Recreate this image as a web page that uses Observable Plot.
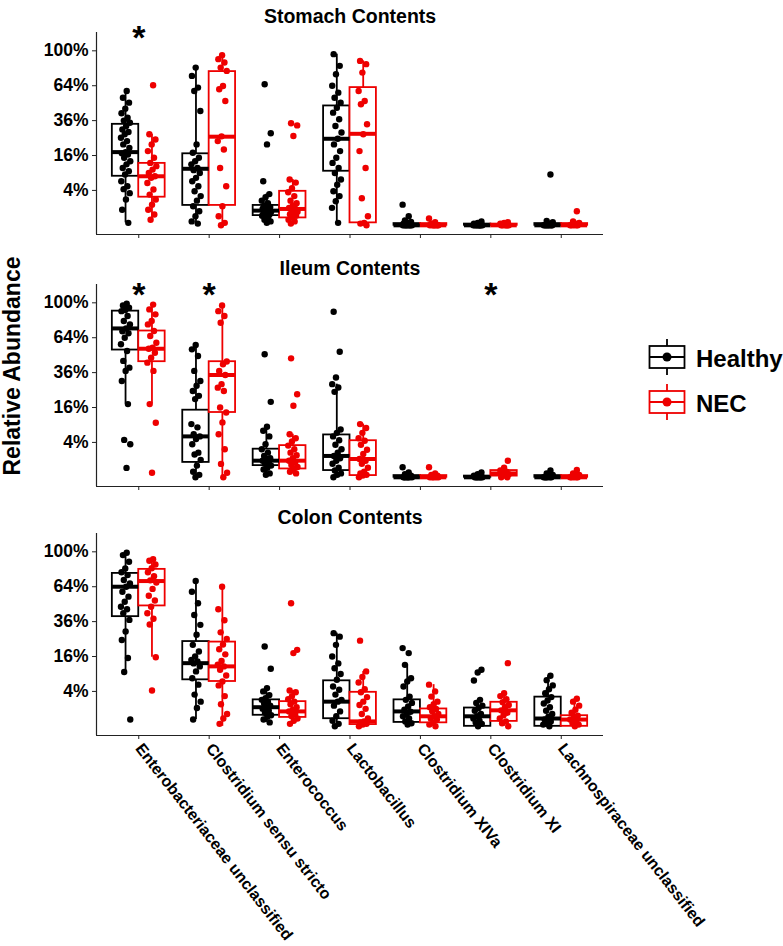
<!DOCTYPE html>
<html><head><meta charset="utf-8">
<script src="https://cdn.jsdelivr.net/npm/d3@7"></script>
<script src="https://cdn.jsdelivr.net/npm/@observablehq/plot@0.6"></script>
<style>
body{margin:0;background:#fff;}
#wrap{position:relative;width:783px;height:946px;font-family:"Liberation Sans",Arial,sans-serif;overflow:hidden;}
.panel{position:absolute;left:0;}
#ylab{position:absolute;left:12px;top:366px;transform:translate(-50%,-50%) rotate(-90deg);font-weight:bold;font-size:23px;line-height:1;white-space:nowrap;color:#000;}
#legend{position:absolute;left:640px;top:330px;}
</style></head><body><div id="wrap"><div id="ylab">Relative Abundance</div><div id="legend"></div></div>
<script>
const categories = ["Enterobacteriaceae unclassified","Clostridium sensu stricto","Enterococcus","Lactobacillus","Clostridium XIVa","Clostridium XI","Lachnospiraceae unclassified"];
const groups = ["Healthy","NEC"];
const groupColors = ["#000000","#ee0000"];
const panels = ["Stomach Contents","Ileum Contents","Colon Contents"];
const yTicks = [0.04,0.16,0.36,0.64,1];
const yTickLabels = ["4%","16%","36%","64%","100%"];

// box stats per category: [lower whisker, Q1, median, Q3, upper whisker] in %
const stomachHealthyBox = [[0.02,7.9,17.6,33.5,59.3],[0,1.3,10.5,16.8,81.7],[0,0.31,0.71,1.3,3.2],[0.02,9.6,24.6,46.8,96.2],[0,0,0,0.01,0.04],[0,0,0,0.005,0.02],[0,0,0,0.01,0.03]];
const stomachNecBox = [[0.1,2.6,7.9,12.6,27.2],[0,1.3,25.8,77.6,95.1],[0,0.18,0.88,3.8,6.9],[0,0.02,27.5,62.3,88.8],[0,0,0,0.01,0.03],[0,0,0,0.005,0.02],[0,0,0,0.01,0.03]];
const ileumHealthyBox = [[17.6,53.2,72.8,90.7,99.0],[0,0.73,5.5,14.8,57.5],[0.02,0.45,0.91,2.6,8.4],[0,0.15,1.5,5.9,28.5],[0,0,0,0.01,0.03],[0,0,0,0.005,0.02],[0,0,0,0.01,0.05]];
const ileumNecBox = [[17.6,43.9,54.3,70.3,98.0],[0,13.8,34.4,43.9,97.0],[0.05,0.23,0.91,3.3,6.1],[0,0.01,1.1,4.4,9.3],[0,0,0,0.01,0.03],[0,0.005,0.05,0.15,0.3],[0,0,0,0.01,0.05]];
const colonHealthyBox = [[9.7,39.5,64.0,76.8,99.0],[0.15,7.1,13.1,23.6,69.3],[0.05,0.4,1.2,2.3,4.8],[0,0.19,2.0,6.8,28.5],[0,0.05,0.73,2.3,12.4],[0,0,0.33,1.1,2.3],[0,0,0.2,2.8,8.4]];
const colonNecBox = [[15.7,47.6,69.3,80.9,91.8],[0,6.6,11.8,23.3,64.0],[0.02,0.26,0.73,2.0,4.2],[0,0.01,0.08,3.8,9.9],[0,0.04,0.33,0.99,5.7],[0,0.08,0.84,1.9,3.6],[0,0,0.15,0.37,2.5]];

// individual samples per category, in %
const stomachHealthyPts = [
 [59.3,53.5,49.4,44.7,41.2,38.0,36.0,34.6,32.4,30.2,28.6,27.2,25.2,23.3,21.5,19.7,17.6,17.0,16.5,15.0,13.5,12.2,10.8,9.6,8.5,6.4,5.0,4.3,3.4,2.2,0.8,0.02],
 [81.7,73.3,62.3,59.3,42.9,21.5,17.3,15.0,13.5,12.2,10.8,10.0,9.0,7.4,6.4,5.0,3.8,2.8,2.0,1.2,0.65,0.27,0.05,0.01],
 [65.4,27.8,21.5,6.4,3.2,2.6,2.0,1.6,1.3,1.1,1.0,0.9,0.8,0.7,0.6,0.6,0.5,0.4,0.4,0.3,0.2,0.1,0.05,0.02],
 [96.2,83.5,75.0,64.0,57.8,53.5,49.4,45.4,41.7,36.9,32.4,28.3,24.6,21.5,18.1,15.0,12.8,10.8,9.0,6.9,5.4,3.8,2.8,1.9,1.0,0.02],
 [1.4,0.27,0.08,0.04,0.02,0.01,0,0,0,0,0,0,0,0],
 [0.05,0.02,0.01,0,0,0,0,0,0,0,0,0],
 [8.5,0.06,0.03,0.01,0,0,0,0,0,0,0,0]];
const stomachNecPts = [
 [64.5,27.2,24.2,21.5,18.1,15.0,12.8,11.5,10.2,9.0,7.9,7.4,5.9,4.2,3.1,2.2,1.4,0.8,0.38,0.1],
 [95.1,90.7,87.1,81.7,78.3,63.8,60.8,50.8,26.0,23.3,18.9,10.8,5.0,1.2,0.27,0.02,0],
 [34.2,32.8,26.2,6.9,6.0,4.5,3.6,2.8,2.0,1.6,1.3,1.0,0.9,0.8,0.6,0.5,0.4,0.3,0.2,0.1,0.05,0.01],
 [88.8,85.3,76.6,59.3,50.8,48.1,33.5,27.2,18.1,10.8,2.4,0.27,0.02,0.01,0],
 [0.15,0.03,0.01,0,0,0,0,0,0,0],
 [0.03,0.02,0.01,0,0,0,0,0,0],
 [0.65,0.05,0.02,0.01,0,0,0,0,0]];
const ileumHealthyPts = [
 [99.0,97.0,94.4,92.0,90.7,85.4,80.2,76.8,72.8,70.0,68.1,64.0,58.1,52.4,44.5,39.5,37.2,30.5,17.6,4.6,3.6,0.29],
 [57.5,53.8,48.3,37.2,30.5,27.5,24.5,21.8,20.1,9.3,8.2,6.1,5.5,4.8,3.6,2.0,1.7,1.0,0.45,0.1,0.02,0],
 [49.7,18.7,8.4,7.1,5.5,3.6,2.6,2.0,1.5,1.2,1.1,0.9,0.73,0.6,0.45,0.3,0.2,0.05,0.02],
 [90.0,51.8,32.7,28.5,26.5,24.0,7.5,6.5,5.5,4.5,3.5,2.6,2.0,1.5,1.2,0.9,0.6,0.3,0.15,0.05,0.02,0],
 [0.33,0.08,0.03,0.01,0,0,0,0,0,0,0],
 [0.08,0.03,0.01,0,0,0,0,0,0,0],
 [0.15,0.05,0.02,0.01,0,0,0,0,0,0]];
const ileumNecPts = [
 [98.0,92.6,87.2,80.2,76.8,70.3,65.6,59.5,55.2,54.3,51.0,47.0,43.2,37.2,17.6,9.8,0.07],
 [97.0,90.7,85.4,78.4,44.0,42.0,37.2,34.4,28.5,26.4,24.5,16.0,13.8,9.9,6.1,2.6,0.59,0.07,0],
 [46.5,22.7,16.8,6.1,5.0,4.2,3.3,2.6,2.0,1.6,1.2,0.91,0.7,0.5,0.35,0.23,0.1,0.05],
 [9.3,8.0,6.5,5.0,4.4,3.5,2.5,1.8,1.1,0.9,0.6,0.3,0.1,0.05,0.02,0.01,0],
 [0.33,0.05,0.02,0.01,0,0,0,0,0],
 [0.91,0.3,0.15,0.1,0.05,0.03,0.01,0,0],
 [0.18,0.05,0.02,0.01,0,0,0,0,0]];
const colonHealthyPts = [
 [99.0,96.3,88.9,81.9,78.0,75.1,70.3,67.0,64.0,59.5,55.2,51.0,47.0,45.0,42.0,37.2,29.5,24.5,15.3,9.7,0.15],
 [69.3,59.5,49.7,40.7,33.8,27.5,21.8,18.4,16.0,14.5,13.8,13.0,11.8,9.9,7.6,5.7,3.3,2.0,1.1,0.15],
 [20.9,10.9,4.8,4.0,3.2,2.6,2.3,2.0,1.7,1.4,1.2,1.0,0.8,0.6,0.4,0.3,0.15,0.05],
 [28.5,26.4,21.8,16.0,13.0,11.1,9.0,7.1,5.2,4.4,3.3,2.3,2.0,1.4,0.73,0.33,0.1,0.02,0],
 [20.1,17.6,12.4,7.6,6.6,5.2,2.9,2.3,1.8,1.3,0.9,0.7,0.5,0.33,0.2,0.08,0.03,0.01],
 [10.5,9.5,6.9,2.3,1.8,1.4,1.1,0.8,0.5,0.33,0.2,0.1,0.05,0.02,0],
 [8.4,7.0,5.5,4.5,3.6,2.8,2.2,1.7,1.2,0.8,0.5,0.3,0.15,0.08,0.03,0.01,0]];
const colonNecPts = [
 [91.8,90.0,86.0,82.0,78.0,74.0,70.0,68.0,62.0,56.0,52.0,47.0,42.0,38.0,34.0,15.7,4.2],
 [64.0,45.0,37.0,29.0,25.0,22.0,19.5,17.0,14.0,12.5,11.8,10.5,8.5,6.6,5.5,3.0,1.6,0.5,0.2,0.02],
 [49.7,19.2,17.6,4.2,3.8,3.0,2.4,2.0,1.6,1.2,0.9,0.73,0.5,0.35,0.2,0.1,0.02],
 [24.1,9.9,8.0,6.3,4.5,3.8,2.8,2.0,1.5,1.0,0.5,0.2,0.08,0.05,0.02,0.01,0],
 [5.7,4.0,2.9,2.0,1.6,1.2,0.99,0.75,0.5,0.33,0.2,0.15,0.04,0.01,0],
 [13.1,3.6,3.0,2.4,1.9,1.5,1.2,0.84,0.6,0.4,0.2,0.08,0.03,0],
 [2.5,2.0,1.4,0.9,0.6,0.37,0.25,0.15,0.08,0.03,0.01,0]];

// significance markers (category names) and their height (fraction)
const sigStomach = ["Enterobacteriaceae unclassified"];
const sigIleum = ["Enterobacteriaceae unclassified","Clostridium sensu stricto","Clostridium XI"];
const sigColon = [];
const sigLevel = [1.147, 1.096, 1.096];

// ---------- drawing ----------
const FONT = '"Liberation Sans", Arial, sans-serif';
const dodge = [-0.1875, 0.1875];
const halfW = 0.1875;
const yDomain = [-(0.0526 ** 2), 1.105 ** 2];
const xDomain = [-0.6, categories.length - 0.4];
// deterministic horizontal spread for the jittered samples (layout only)
const spread = k => (((k * 0.6180339887) % 1) - 0.5) * 0.14;

const layouts = [
  {top: 0, height: 244, mt: 32, mb: 10, labels: false},
  {top: 244, height: 252, mt: 40, mb: 10, labels: false},
  {top: 496, height: 450, mt: 37, mb: 211, labels: true}
];
const panelBoxes = [[stomachHealthyBox, stomachNecBox],[ileumHealthyBox, ileumNecBox],[colonHealthyBox, colonNecBox]];
const panelPts = [[stomachHealthyPts, stomachNecPts],[ileumHealthyPts, ileumNecPts],[colonHealthyPts, colonNecPts]];
const panelSig = [sigStomach, sigIleum, sigColon];

const wrap = document.getElementById("wrap");
panels.forEach((title, p) => {
  const L = layouts[p];
  const boxRows = [], ptRows = [];
  groups.forEach((g, gi) => {
    panelBoxes[p][gi].forEach((b, i) => {
      const xc = i + dodge[gi];
      boxRows.push({group: g, x: xc, x1: xc - halfW, x2: xc + halfW, lo: b[0]/100, q1: b[1]/100, med: b[2]/100, q3: b[3]/100, hi: b[4]/100});
    });
    panelPts[p][gi].forEach((vals, i) => vals.forEach((v, k) => {
      ptRows.push({group: g, x: i + dodge[gi] + spread(k + 1 + i * 3), v: v/100});
    }));
  });
  const sigRows = panelSig[p].map(c => ({x: categories.indexOf(c), y: sigLevel[p]}));
  const chart = Plot.plot({
    width: 783, height: L.height,
    marginTop: L.mt, marginBottom: L.mb, marginLeft: 96, marginRight: 180,
    style: {fontFamily: FONT, fontWeight: "bold", fontSize: "16px", color: "#000", background: "transparent", overflow: "visible"},
    x: {domain: xDomain, axis: null},
    y: {type: "sqrt", domain: yDomain, axis: null},
    color: {domain: groups, range: groupColors},
    marks: [
      Plot.ruleX(boxRows, {x: "x", y1: "lo", y2: "hi", stroke: "group", strokeWidth: 1.8}),
      Plot.rect(boxRows, {x1: "x1", x2: "x2", y1: "q1", y2: "q3", fill: "white", stroke: "group", strokeWidth: 1.8}),
      Plot.ruleY(boxRows, {x1: "x1", x2: "x2", y: "med", stroke: "group", strokeWidth: 4}),
      Plot.dot(ptRows, {x: "x", y: "v", r: 3.2, fill: "group", stroke: null}),
      Plot.text(sigRows, {x: "x", y: "y", text: () => "*", fontSize: 34, fontWeight: "bold", fill: "#000"}),
      Plot.ruleX([xDomain[0]], {stroke: "#222", strokeWidth: 1.2}),
      Plot.ruleY([yDomain[0]], {stroke: "#222", strokeWidth: 1.2}),
      Plot.axisY({ticks: yTicks, tickFormat: d => yTickLabels[yTicks.indexOf(d)], tickSize: 4, tickPadding: 4, fontSize: 17.5, fontWeight: "bold", stroke: "#222"}),
      Plot.axisX({ticks: d3.range(categories.length), tickFormat: L.labels ? (i => categories[i]) : (() => ""),
        tickSize: 4, tickPadding: 6, fontSize: 16, fontWeight: "bold", tickRotate: 52, textAnchor: "start", stroke: "#222"}),
      Plot.text([title], {frameAnchor: "top", dy: -23, fontSize: 19.5, fontWeight: "bold", fill: "#000"})
    ]
  });
  chart.classList.add("panel");
  chart.style.top = L.top + "px";
  wrap.appendChild(chart);
});

// legend
const leg = d3.select("#legend").append("svg").attr("width", 143).attr("height", 100)
  .style("font-family", FONT);
groups.forEach((g, gi) => {
  const cy = 27 + gi * 45;
  const c = groupColors[gi];
  const G = leg.append("g");
  G.append("line").attr("x1", 27).attr("x2", 27).attr("y1", cy - 18).attr("y2", cy + 18).attr("stroke", c).attr("stroke-width", 1.8);
  G.append("rect").attr("x", 9.5).attr("y", cy - 11).attr("width", 35).attr("height", 22).attr("fill", "white").attr("stroke", c).attr("stroke-width", 1.8);
  G.append("line").attr("x1", 9.5).attr("x2", 44.5).attr("y1", cy).attr("y2", cy).attr("stroke", c).attr("stroke-width", 1.8);
  G.append("circle").attr("cx", 27).attr("cy", cy).attr("r", 4.5).attr("fill", c);
  G.append("text").attr("x", 56).attr("y", cy + 1).attr("dominant-baseline", "central").attr("font-size", 24).attr("font-weight", "bold").attr("fill", "#000").text(g);
});
</script></body></html>
